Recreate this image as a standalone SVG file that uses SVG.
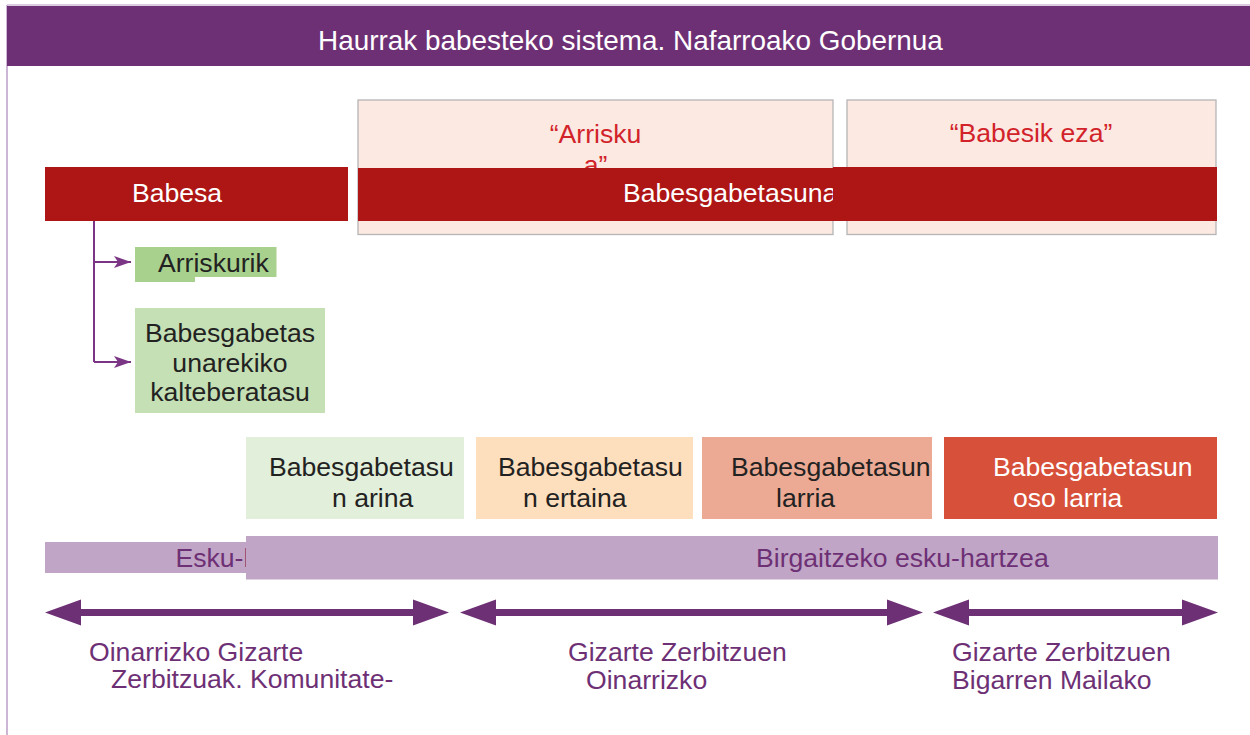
<svg xmlns="http://www.w3.org/2000/svg" width="1250" height="735" viewBox="0 0 1250 735">
<style>
  text { font-family: "Liberation Sans", Arial, sans-serif; font-size: 26.6px; }
  .white { fill: #ffffff; }
  .dark { fill: #222222; }
  .redtxt { fill: #d2232a; }
  .purp { fill: #6e3075; }
  .redbar { fill: #ae1615; }
  .pink { fill: #fbe9e2; stroke: #b5b5b5; stroke-width: 1.3; }
  .band { fill: #c0a5c6; }
  .conn { stroke: #7b3585; stroke-width: 2; fill: none; }
  .big { fill: #6e3075; }
</style>
<defs>
  <marker id="ah" markerUnits="userSpaceOnUse" markerWidth="18" markerHeight="13" refX="17" refY="6" orient="auto">
    <path d="M0,0 L17,6 L0,12 L4,6 Z" fill="#7b3585"/>
  </marker>
  <clipPath id="clipRed1"><rect x="358" y="160" width="475" height="70"/></clipPath>
  <clipPath id="clipEsku"><rect x="45" y="530" width="201" height="60"/></clipPath>
</defs>
<rect x="0" y="0" width="1250" height="735" fill="#ffffff"/>
<g id="frame">
  <line x1="7" y1="5" x2="1250" y2="5" stroke="#cdbcd4" stroke-width="1.5"/>
  <line x1="7" y1="5" x2="7" y2="735" stroke="#cdb6d5" stroke-width="2"/>
</g>
<g id="header">
  <rect x="7" y="6" width="1243" height="60" fill="#6e3075"/>
  <text x="630.5" y="50" text-anchor="middle" class="white" style="font-size:27.9px">Haurrak babesteko sistema. Nafarroako Gobernua</text>
</g>
<g id="arrisku">
  <rect class="pink" x="358" y="100" width="475" height="134.5"/>
  <text x="595.5" y="142.5" text-anchor="middle" class="redtxt">“Arrisku</text>
  <text x="595.5" y="173.5" text-anchor="middle" class="redtxt">a”</text>
</g>
<g id="babesik-eza">
  <rect class="pink" x="847" y="100" width="369" height="134.5"/>
  <text x="1031" y="142" text-anchor="middle" class="redtxt">“Babesik eza”</text>
</g>
<g id="babesa">
  <rect class="redbar" x="45" y="167" width="303" height="54"/>
  <text x="177" y="202" text-anchor="middle" class="white">Babesa</text>
</g>
<g id="babesgabetasuna">
  <rect class="redbar" x="358" y="168" width="475" height="53"/>
  <rect class="redbar" x="833" y="167" width="384" height="54"/>
  <text x="623" y="202" class="white" clip-path="url(#clipRed1)">Babesgabetasuna</text>
</g>
<g id="connectors">
  <path class="conn" d="M94,221 V362"/>
  <path class="conn" d="M94,262 H131" marker-end="url(#ah)"/>
  <path class="conn" d="M94,362 H131" marker-end="url(#ah)"/>
</g>
<g id="arriskurik">
  <path d="M135,247 H276.5 V277 H195 V282 H135 Z" fill="#a9d18e"/>
  <text x="158" y="272" class="dark">Arriskurik</text>
</g>
<g id="kalteberatasuna">
  <rect x="135" y="308" width="190" height="105" fill="#c5e0b4"/>
  <text x="230" y="342" text-anchor="middle" class="dark">Babesgabetas</text>
  <text x="230" y="371.5" text-anchor="middle" class="dark">unarekiko</text>
  <text x="230" y="400.5" text-anchor="middle" class="dark">kalteberatasu</text>
</g>
<g id="arina">
  <rect x="246" y="437" width="218" height="82" fill="#e2efda"/>
  <text x="269" y="475.5" class="dark">Babesgabetasu</text>
  <text x="332" y="507" class="dark">n arina</text>
</g>
<g id="ertaina">
  <rect x="476" y="437" width="217" height="82" fill="#fddfbd"/>
  <text x="498" y="475.5" class="dark">Babesgabetasu</text>
  <text x="523" y="507" class="dark">n ertaina</text>
</g>
<g id="larria">
  <rect x="702" y="437" width="230" height="82" fill="#ecaa94"/>
  <text x="731" y="475.5" class="dark">Babesgabetasun</text>
  <text x="776" y="507" class="dark">larria</text>
</g>
<g id="oso-larria">
  <rect x="944" y="437" width="273" height="82" fill="#d7503a"/>
  <text x="993" y="475.5" class="white">Babesgabetasun</text>
  <text x="1013" y="507" class="white">oso larria</text>
</g>
<g id="esku-hartzea">
  <rect class="band" x="45" y="542" width="201" height="31"/>
  <text x="175.5" y="566.5" class="purp" clip-path="url(#clipEsku)">Esku-h</text>
</g>
<g id="birgaitzeko">
  <rect class="band" x="246" y="536" width="972" height="43.5"/>
  <text x="756" y="566.5" class="purp">Birgaitzeko esku-hartzea</text>
</g>
<g id="scale-arrows">
  <path class="big" d="M45,612.5 L81,599.5 L81,609 L413,609 L413,599.5 L449,612.5 L413,625.5 L413,616 L81,616 L81,625.5 Z"/>
  <path class="big" d="M460,612.5 L496,599.5 L496,609 L887,609 L887,599.5 L923,612.5 L887,625.5 L887,616 L496,616 L496,625.5 Z"/>
  <path class="big" d="M933,612.5 L969,599.5 L969,609 L1182,609 L1182,599.5 L1218,612.5 L1182,625.5 L1182,616 L969,616 L969,625.5 Z"/>
</g>
<g id="oinarrizko-gizarte">
  <text x="89" y="660.5" class="purp">Oinarrizko Gizarte</text>
  <text x="111" y="687.5" class="purp">Zerbitzuak. Komunitate-</text>
</g>
<g id="gizarte-oinarrizko">
  <text x="568" y="660.5" class="purp">Gizarte Zerbitzuen</text>
  <text x="586" y="689" class="purp">Oinarrizko</text>
</g>
<g id="gizarte-bigarren">
  <text x="952" y="660.5" class="purp">Gizarte Zerbitzuen</text>
  <text x="952" y="689" class="purp">Bigarren Mailako</text>
</g>
</svg>
